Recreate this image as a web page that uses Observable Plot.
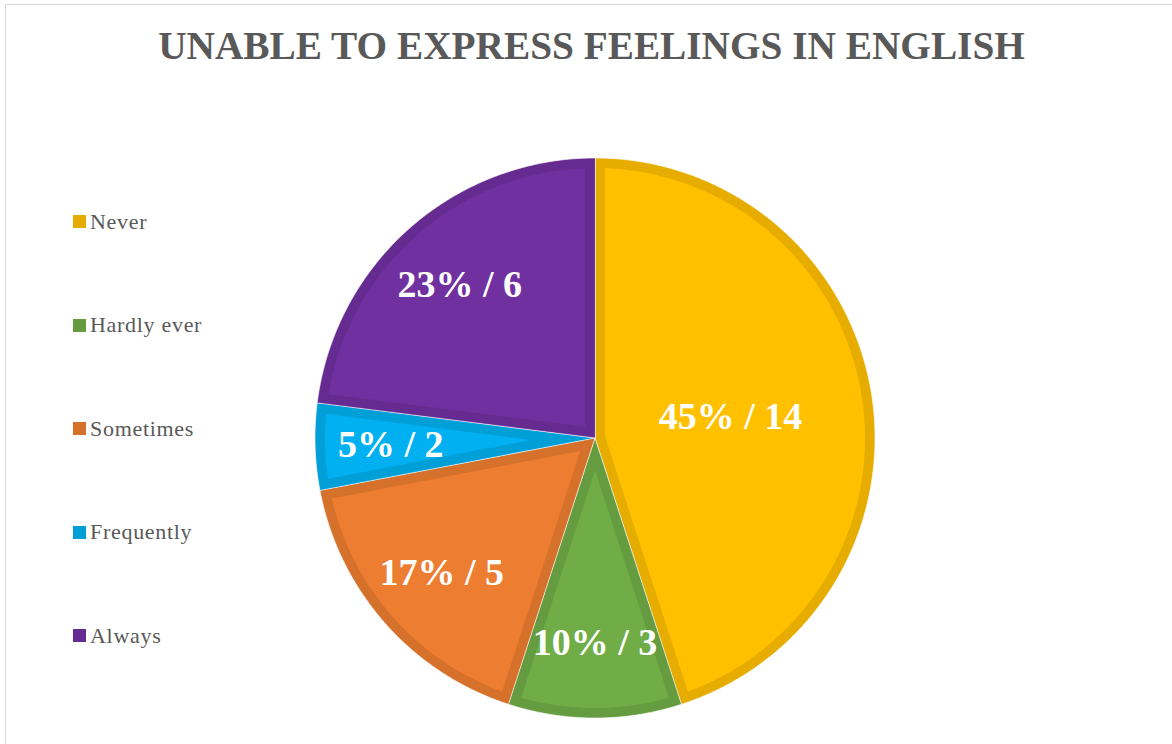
<!DOCTYPE html>
<html><head><meta charset="utf-8">
<script src="https://cdn.jsdelivr.net/npm/d3@7"></script>
<script src="https://cdn.jsdelivr.net/npm/@observablehq/plot@0.6"></script>
<style>
html,body{margin:0;padding:0;background:#fff;overflow:hidden;}
#page{position:relative;width:1172px;height:744px;overflow:hidden;}
#frame{position:absolute;left:5px;top:4px;width:1200px;height:800px;border:1px solid #d9d9d9;box-sizing:border-box;}
#title{position:absolute;left:0;top:24px;width:1183px;text-align:center;font-family:"Liberation Serif","Times New Roman",serif;font-weight:bold;font-size:39.3px;line-height:45px;color:#595959;margin:0;white-space:nowrap;}
#chart{position:absolute;left:0;top:90px;}
#legend{position:absolute;left:73px;top:0;font-family:"Liberation Serif","Times New Roman",serif;font-size:22px;color:#595959;}
.item{position:absolute;left:0;white-space:nowrap;display:flex;align-items:center;line-height:24px;letter-spacing:0.7px;}
.sw{width:13px;height:13px;margin-right:4px;flex:none;}
</style></head>
<body><div id="page"><div id="frame"></div><h1 id="title"></h1><div id="chart"></div><div id="legend"></div></div>
<script>
// ---- data ----
const titleText = "UNABLE TO EXPRESS FEELINGS IN ENGLISH";
const categories = ["Never", "Hardly ever", "Sometimes", "Frequently", "Always"];
const percents = [45, 10, 17, 5, 23];
const counts = [14, 3, 5, 2, 6];
const fillColors = ["#FFC000", "#70AD47", "#ED7D31", "#00B0F0", "#7030A0"];
const borderColors = ["#E6AD00", "#659C40", "#D6712C", "#009FD8", "#652B90"];

// ---- layout ----
const W = 1172, H = 654;
const cx = 594.5, cy = 347.5, R = 280, band = 10;

const rows = categories.map((c, i) => ({category: c, pct: percents[i], count: counts[i], fill: fillColors[i], border: borderColors[i]}));
const arcs = d3.pie().sort(null).value(d => d.pct)(rows);

const pt = (a, r) => [cx + r * Math.sin(a), cy - r * Math.cos(a)];
function arcPts(a0, a1, r) {
  const n = Math.max(2, Math.ceil((a1 - a0) / (Math.PI / 360)));
  return d3.range(n + 1).map(i => pt(a0 + (a1 - a0) * i / n, r));
}
const outer = arcs.map(a => ({
  type: "Feature",
  properties: {color: a.data.border},
  geometry: {type: "Polygon", coordinates: [[[cx, cy], ...arcPts(a.startAngle, a.endAngle, R), [cx, cy]]]}
}));
const inner = arcs.map(a => {
  const h = (a.endAngle - a.startAngle) / 2, m = (a.startAngle + a.endAngle) / 2;
  const apex = pt(m, band / Math.sin(h));
  const ri = R - band, dl = Math.asin(band / ri);
  return {
    type: "Feature",
    properties: {color: a.data.fill},
    geometry: {type: "Polygon", coordinates: [[apex, ...arcPts(a.startAngle + dl, a.endAngle - dl, ri), apex]]}
  };
});
const labels = arcs.map(a => {
  const m = (a.startAngle + a.endAngle) / 2;
  const k = a.data.pct > 40 ? 0.49 : 0.73;
  const [x, y] = pt(m, k * R);
  return {x, y, text: `${a.data.pct}% / ${a.data.count}`};
});

const frameDomain = {type: "Polygon", coordinates: [[[0, 0], [W, 0], [W, H], [0, H], [0, 0]]]};

const chart = Plot.plot({
  width: W, height: H,
  margin: 0,
  style: {background: "transparent"},
  projection: {type: "identity", domain: frameDomain},
  color: {type: "identity"},
  marks: [
    Plot.geo(outer, {fill: d => d.properties.color, stroke: "white", strokeWidth: 0.6}),
    Plot.geo(inner, {fill: d => d.properties.color}),
    Plot.text(labels, {x: "x", y: "y", text: "text", fill: "white", fontSize: 38, fontWeight: "bold",
      fontFamily: "'Liberation Serif','Times New Roman',serif"})
  ]
});
document.getElementById("chart").appendChild(chart);
document.getElementById("title").textContent = titleText;

const legend = document.getElementById("legend");
categories.forEach((c, i) => {
  const item = document.createElement("div");
  item.className = "item";
  item.style.top = (209.5 + i * 103.5) + "px";
  const sw = document.createElement("span");
  sw.className = "sw";
  sw.style.background = borderColors[i];
  const tx = document.createElement("span");
  tx.textContent = c;
  item.appendChild(sw); item.appendChild(tx);
  legend.appendChild(item);
});
</script>
</body></html>
